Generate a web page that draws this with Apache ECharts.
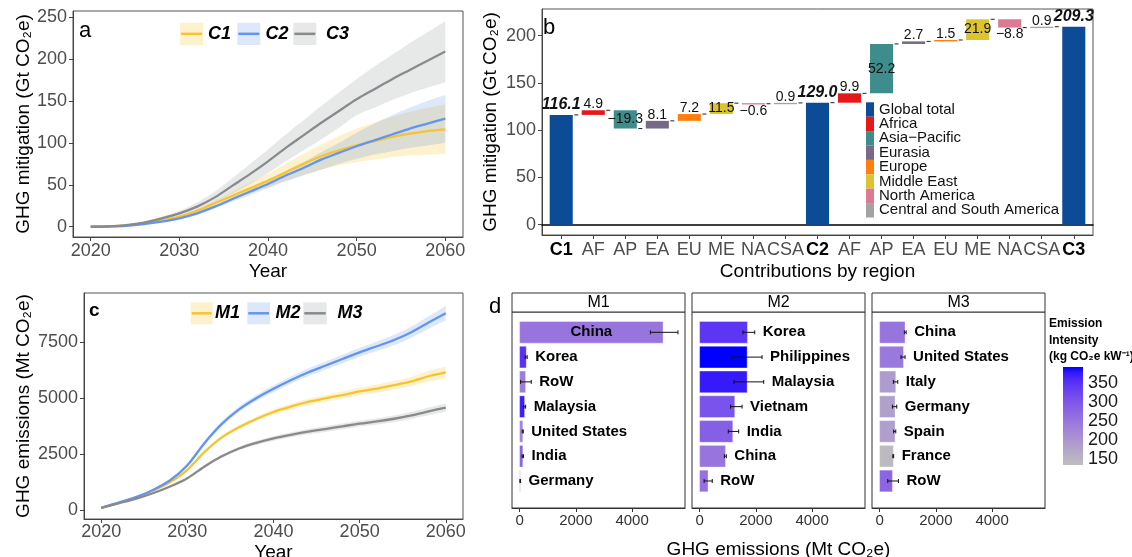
<!DOCTYPE html>
<html><head><meta charset="utf-8">
<script src="https://cdn.jsdelivr.net/npm/echarts@6/dist/echarts.min.js"></script>
<style>html,body{margin:0;padding:0;background:#fff}#c{width:1132px;height:557px}</style>
</head><body><div id="c"></div>
<script>
// ================= DATA =================
// Panel a: cumulative GHG mitigation (Gt CO2e)
const yearsA = [2020,2022,2024,2026,2028,2030,2032,2034,2036,2038,2040,2042,2044,2046,2048,2050,2052,2054,2056,2058,2060];
const c1Mean = [0,0.4,1.5,4,7.5,12,19,28,37,46,55,65,75,84,91,97,102,107,111,114,116];
const c1High = [0,0.5,1.7,4.4,8.3,13,21,31,42,53,63,75,87,98,108,117,124,131,137,142,146];
const c1Low  = [0,0.3,1.3,3.6,6.8,11,17,25,33,40,47,55,62,68,73,77,80,83,85,86,87];
const c2Mean = [0,0.3,1,3,6,10,16,24,33,42,51,61,70,80,88,96,103,110,117,123,129];
const c2High = [0,0.4,1.2,3.4,6.6,11,18,26,36,45,55,66,77,89,100,112,123,133,142,150,157];
const c2Low  = [0,0.2,0.8,2.6,5.4,9,14,22,30,38,46,54,61,68,75,81,86,90,94,97,100];
const c3Mean = [0,0.5,2,5,10,16,24,35,49,63,78,94,109,124,138,152,164,176,187,198,209];
const c3High = [0,0.6,2.5,6,12,19,29,42,58,75,92,110,127,144,160,176,191,205,219,232,245];
const c3Low  = [0,0.4,1.5,4,8,13,19,28,39,51,64,78,91,104,118,133,142,151,159,166,172];

// Panel c: GHG emissions (Mt CO2e)
const yearsC = [2020,2022,2024,2026,2028,2030,2032,2034,2036,2038,2040,2042,2044,2046,2048,2050,2052,2054,2056,2058,2060];
const m1Mean = [100,320,560,860,1250,1800,2600,3250,3700,4070,4380,4620,4830,4990,5140,5300,5430,5580,5750,5980,6150];
const m1High = [120,345,590,900,1300,1860,2670,3330,3790,4170,4500,4750,4970,5140,5300,5470,5610,5770,5960,6220,6420];
const m1Low  = [80,295,530,820,1200,1740,2530,3170,3610,3970,4260,4490,4690,4840,4980,5130,5250,5390,5540,5740,5880];
const m2Mean = [100,330,580,900,1330,2000,3000,3850,4500,5000,5420,5800,6150,6450,6750,7050,7320,7600,7950,8380,8800];
const m2High = [120,355,610,940,1380,2080,3090,3960,4620,5140,5570,5960,6320,6630,6940,7250,7530,7830,8200,8660,9120];
const m2Low  = [80,305,550,860,1280,1920,2910,3740,4380,4860,5270,5640,5980,6270,6560,6850,7110,7370,7700,8100,8480];
const m3Mean = [100,300,500,750,1050,1420,1950,2400,2750,3000,3200,3360,3500,3620,3740,3860,3960,4080,4230,4410,4580];
const m3High = [115,320,525,780,1090,1470,2010,2470,2830,3090,3300,3470,3620,3750,3870,3990,4100,4230,4390,4580,4760];
const m3Low  = [85,280,475,720,1010,1370,1890,2330,2670,2910,3100,3250,3380,3490,3610,3730,3820,3930,4070,4240,4400];

// Panel b: waterfall
const wfLabels = ['C1','AF','AP','EA','EU','ME','NA','CSA','C2','AF','AP','EA','EU','ME','NA','CSA','C3'];
const regionNames = ['Global total','Africa','Asia\u2212Pacific','Eurasia','Europe','Middle East','North America','Central and South America'];
const wfTotals = [116.1, 129.0, 209.3];
const deltasC1toC2 = [4.9, -19.3, 8.1, 7.2, 11.5, -0.6, 0.9];
const deltasC2toC3 = [9.9, 52.2, 2.7, 1.5, 21.9, -8.8, 0.9];

// Panel d: emissions by country (Mt CO2e), error range, emission intensity
const m1Names = ['China','Korea','RoW','Malaysia','United States','India','Germany'];
const m1Val   = [5100, 237, 212, 178, 115, 115, 25];
const m1Lo    = [4650, 200, 35, 150, 95, 90, 10];
const m1Hi    = [5630, 270, 415, 215, 130, 140, 35];
const m1Int   = [250, 350, 240, 370, 228, 280, 170];
const m2Names = ['Korea','Philippines','Malaysia','Vietnam','India','China','RoW'];
const m2Val   = [1700, 1690, 1690, 1250, 1180, 920, 300];
const m2Lo    = [1540, 1160, 1220, 1100, 1020, 880, 160];
const m2Hi    = [1960, 2220, 2280, 1510, 1390, 950, 450];
const m2Int   = [345, 391, 375, 305, 285, 250, 258];
const m3Names = ['China','United States','Italy','Germany','Spain','France','RoW'];
const m3Val   = [905, 850, 575, 550, 550, 490, 455];
const m3Lo    = [880, 760, 490, 455, 500, 470, 290];
const m3Hi    = [945, 905, 645, 610, 575, 500, 670];
const m3Int   = [250, 245, 188, 182, 185, 140, 275];
const intensityRange = [133, 391];
const intensityTicks = [150, 200, 250, 300, 350];

// ================= STYLE =================
const FONT = '"Liberation Sans", Arial, Helvetica, sans-serif';
const GRAYTXT = '#4d4d4d';
const regionColors = ['#0c4b96','#e3191c','#3e8c8c','#786a86','#ff7f0e','#dcc431','#dc7a93','#a3a3a3'];
const lineA = {C1:'#f6c431', C2:'#6495ed', C3:'#888a8e'};
const bandA = {C1:'rgba(246,196,49,0.24)', C2:'rgba(100,149,237,0.22)', C3:'rgba(136,138,142,0.2)'};
const plain = v => String(v);

// Lab interpolation (grey -> blue) like ggplot's gradient
function s2l(c){c/=255;return c<=0.04045?c/12.92:Math.pow((c+0.055)/1.055,2.4);}
function l2s(c){const v=c<=0.0031308?12.92*c:1.055*Math.pow(c,1/2.4)-0.055;return Math.round(Math.max(0,Math.min(1,v))*255);}
function rgb2lab(rgb){const r=s2l(rgb[0]),g=s2l(rgb[1]),b=s2l(rgb[2]);
  const X=(0.4124*r+0.3576*g+0.1805*b)/0.95047,Y=0.2126*r+0.7152*g+0.0722*b,Z=(0.0193*r+0.1192*g+0.9505*b)/1.08883;
  const f=t=>t>0.008856?Math.cbrt(t):7.787*t+16/116;
  return [116*f(Y)-16,500*(f(X)-f(Y)),200*(f(Y)-f(Z))];}
function lab2hex(L,a,b){const fy=(L+16)/116,fx=fy+a/500,fz=fy-b/200;
  const inv=t=>t*t*t>0.008856?t*t*t:(t-16/116)/7.787;
  const X=inv(fx)*0.95047,Y=inv(fy),Z=inv(fz)*1.08883;
  const r=3.2406*X-1.5372*Y-0.4986*Z,g=-0.9689*X+1.8758*Y+0.0415*Z,bb=0.0557*X-0.2040*Y+1.0570*Z;
  return '#'+[l2s(r),l2s(g),l2s(bb)].map(v=>v.toString(16).padStart(2,'0')).join('');}
const labLo = rgb2lab([190,190,190]), labHi = rgb2lab([0,0,255]);
const gradColors = [];
for (let k=0;k<=16;k++){const t=k/16;gradColors.push(lab2hex(labLo[0]+(labHi[0]-labLo[0])*t,labLo[1]+(labHi[1]-labLo[1])*t,labLo[2]+(labHi[2]-labLo[2])*t));}

// ================= HELPERS =================
function axisBase(gridIndex){
  return {gridIndex, type:'value', splitLine:{show:false},
    axisLine:{show:true,onZero:false,lineStyle:{color:'#444',width:1}},
    axisTick:{show:true,length:4,lineStyle:{color:'#444'}},
    axisLabel:{color:GRAYTXT,fontSize:18,fontFamily:FONT,formatter:plain},
    nameTextStyle:{color:'#000',fontSize:19,fontFamily:FONT}};
}
function pairs(xs, ys){return xs.map((x,i)=>[x, ys[i]]);}
// Catmull-Rom sampling of pixel points (for smooth band edges)
function catmull(P, n){
  n = n || 8; const out = [];
  for (let i=0;i<P.length-1;i++){
    const p0=P[Math.max(i-1,0)], p1=P[i], p2=P[i+1], p3=P[Math.min(i+2,P.length-1)];
    for (let s=0;s<n;s++){
      const t=s/n, t2=t*t, t3=t2*t;
      out.push([0,1].map(k=>0.5*(2*p1[k]+(-p0[k]+p2[k])*t+(2*p0[k]-5*p1[k]+4*p2[k]-p3[k])*t2+(-p0[k]+3*p1[k]-3*p2[k]+p3[k])*t3)));
    }
  }
  out.push(P[P.length-1]);
  return out;
}

const series = [];
function addBand(name, xs, lo, hi, color, xi, yi){
  series.push({name:name+' band', type:'custom', xAxisIndex:xi, yAxisIndex:yi, silent:true, z:1,
    data: xs.map((x,i)=>[x, lo[i], hi[i]]), encode:{x:0, y:[1,2]},
    renderItem: function(params, api){
      if (params.dataIndex !== 0) return null;
      const up = xs.map((x,i)=>api.coord([x, hi[i]]));
      const dn = xs.map((x,i)=>api.coord([x, lo[i]]));
      const pts = catmull(up).concat(catmull(dn).reverse());
      return {type:'polygon', shape:{points:pts}, style:{fill:color}};
    }});
}
function addLine(name, xs, ys, color, xi, yi){
  series.push({name, type:'line', xAxisIndex:xi, yAxisIndex:yi, data:pairs(xs, ys), smooth:0.3, symbol:'none',
    lineStyle:{color, width:2.3}, itemStyle:{color}, z:3});
}

// Panel a
addBand('C3', yearsA, c3Low, c3High, bandA.C3, 0, 0);
addBand('C1', yearsA, c1Low, c1High, bandA.C1, 0, 0);
addBand('C2', yearsA, c2Low, c2High, bandA.C2, 0, 0);
addLine('C1', yearsA, c1Mean, lineA.C1, 0, 0);
addLine('C2', yearsA, c2Mean, lineA.C2, 0, 0);
addLine('C3', yearsA, c3Mean, lineA.C3, 0, 0);
// Panel c
addBand('M3', yearsC, m3Low, m3High, bandA.C3, 2, 2);
addBand('M1', yearsC, m1Low, m1High, bandA.C1, 2, 2);
addBand('M2', yearsC, m2Low, m2High, bandA.C2, 2, 2);
addLine('M1', yearsC, m1Mean, lineA.C1, 2, 2);
addLine('M2', yearsC, m2Mean, lineA.C2, 2, 2);
addLine('M3', yearsC, m3Mean, lineA.C3, 2, 2);

// Panel b waterfall data
const wfData = regionNames.map(()=>[]);
wfTotals.forEach((t,k)=>wfData[0].push([k*8, 0, t, t]));
[deltasC1toC2, deltasC2toC3].forEach((ds,k)=>{
  let start = wfTotals[k];
  ds.forEach((d,j)=>{const end = start + d; wfData[j+1].push([k*8+1+j, start, end, d]); start = end;});
});
const lastIdx = wfLabels.length - 1;
function fmt(d){return (d<0?'\u2212':'') + Math.abs(d).toFixed(1);}
function makeWfRender(isTotal){
  return function(params, api){
    const idx=api.value(0), s=api.value(1), e=api.value(2), d=api.value(3);
    const top=Math.max(s,e), bot=Math.min(s,e);
    const pt=api.coord([idx-0.36, top]), pb=api.coord([idx+0.36, bot]);
    const color=api.visual('color');
    const kids=[{type:'rect', shape:{x:pt[0], y:pt[1], width:pb[0]-pt[0], height:Math.max(pb[1]-pt[1],1.3)}, style:{fill:color}}];
    if (idx < lastIdx){
      const c=api.coord([idx+0.36, e]);
      kids.push({type:'line', shape:{x1:c[0]+1.5,y1:c[1],x2:c[0]+5.5,y2:c[1]}, style:{stroke:'#222',lineWidth:1}});
    }
    const cx=(pt[0]+pb[0])/2;
    let y, va, font;
    if (isTotal){ y=pt[1]-2; va='bottom'; font='italic bold 16px '+FONT; }
    else if (Math.abs(d)>=10){ y=(pt[1]+pb[1])/2; va='middle'; font='14px '+FONT; }
    else if (d>0){ y=pt[1]+1; va='bottom'; font='14px '+FONT; }
    else { y=pb[1]; va='top'; font='14px '+FONT; }
    kids.push({type:'text', x:cx, y, style:{text:fmt(d), font, fill:'#111', align:'center', textAlign:'center', verticalAlign:va, textVerticalAlign:va}});
    return {type:'group', children:kids};
  };
}
regionNames.forEach((nm,r)=>{
  series.push({name:nm, type:'custom', xAxisIndex:1, yAxisIndex:1, data:wfData[r], encode:{x:0, y:[1,2]},
    renderItem:makeWfRender(r===0), itemStyle:{color:regionColors[r]}, z:2});
});

// Panel d
function makeDRender(names){
  return function(params, api){
    const v=api.value(0), i=api.value(1), lo=api.value(2), hi=api.value(3);
    const h=Math.abs(api.size([0,0.875])[1]);
    const p0=api.coord([0,i]), p1=api.coord([v,i]), pl=api.coord([lo,i]), ph=api.coord([hi,i]);
    const color=api.visual('color');
    const cap=2;
    const kids=[
      {type:'rect', shape:{x:p0[0], y:p0[1]-h/2, width:Math.max(p1[0]-p0[0],0.8), height:h}, style:{fill:color, stroke:'rgba(255,255,255,0.6)', lineWidth:0.6}},
      {type:'line', shape:{x1:pl[0],y1:pl[1],x2:ph[0],y2:ph[1]}, style:{stroke:'#111',lineWidth:1}},
      {type:'line', shape:{x1:pl[0],y1:pl[1]-cap,x2:pl[0],y2:pl[1]+cap}, style:{stroke:'#111',lineWidth:1}},
      {type:'line', shape:{x1:ph[0],y1:ph[1]-cap,x2:ph[0],y2:ph[1]+cap}, style:{stroke:'#111',lineWidth:1}}
    ];
    const inside = v > 3000;
    const tx = inside ? (p0[0]+p1[0])/2 : ph[0]+8;
    kids.push({type:'text', x:tx, y:p0[1], style:{text:names[params.dataIndex], font:'bold 15px '+FONT, fill:'#000',
      align:inside?'center':'left', textAlign:inside?'center':'left', verticalAlign:'middle', textVerticalAlign:'middle'}});
    return {type:'group', children:kids};
  };
}
const dPanels = [
  {names:m1Names, val:m1Val, lo:m1Lo, hi:m1Hi, int:m1Int},
  {names:m2Names, val:m2Val, lo:m2Lo, hi:m2Hi, int:m2Int},
  {names:m3Names, val:m3Val, lo:m3Lo, hi:m3Hi, int:m3Int}
];
const dSeriesIdx = [];
dPanels.forEach((p,k)=>{
  dSeriesIdx.push(series.length);
  series.push({name:'M'+(k+1)+' countries', type:'custom', xAxisIndex:3+k, yAxisIndex:3+k,
    data:p.names.map((n,i)=>[p.val[i], i, p.lo[i], p.hi[i], p.int[i]]),
    encode:{x:[0,2,3], y:1}, renderItem:makeDRender(p.names), z:2});
});

// Colorbar
series.push({name:'colorbar', type:'custom', xAxisIndex:6, yAxisIndex:6, silent:true,
  data:[[0, intensityRange[0], intensityRange[1]]], encode:{y:[1,2]},
  renderItem:function(params, api){
    const a=api.coord([0, api.value(2)]), b=api.coord([1, api.value(1)]);
    const stops = gradColors.slice().reverse().map((c,k,arr)=>({offset:k/(arr.length-1), color:c}));
    return {type:'rect', shape:{x:a[0], y:a[1], width:b[0]-a[0], height:b[1]-a[1]},
      style:{fill:new echarts.graphic.LinearGradient(0,0,0,1,stops)}};
  }, z:1});

// ================= AXES =================
const xAxis = [];
const yAxis = [];
const yearTicks = [2020,2030,2040,2050,2060];
// 0: a
xAxis.push(Object.assign(axisBase(0), {min:2018, max:2062, name:'Year', nameLocation:'middle', nameGap:25,
  axisLabel:{color:GRAYTXT,fontSize:18,fontFamily:FONT,margin:5,formatter:plain,customValues:yearTicks}, axisTick:{length:4,lineStyle:{color:'#444'},customValues:yearTicks}}));
// 1: b
xAxis.push(Object.assign(axisBase(1), {min:-0.6, max:16.6, name:'Contributions by region', nameLocation:'middle', nameGap:27,
  axisLabel:{color:GRAYTXT,fontSize:18,fontFamily:FONT,margin:6,customValues:wfLabels.map((l,i)=>i),
    formatter:v=>{const l=wfLabels[Math.round(v)]; return /^C\d$/.test(l)?'{b|'+l+'}':l;},
    rich:{b:{fontWeight:'bold',color:'#000',fontSize:18,fontFamily:FONT}}},
  axisTick:{length:4,lineStyle:{color:'#444'},customValues:wfLabels.map((l,i)=>i)}}));
// 2: c
xAxis.push(Object.assign(axisBase(2), {min:2018, max:2062, name:'Year', nameLocation:'middle', nameGap:24,
  axisLabel:{color:GRAYTXT,fontSize:18,fontFamily:FONT,margin:4,formatter:plain,customValues:yearTicks}, axisTick:{length:4,lineStyle:{color:'#444'},customValues:yearTicks}}));
// 3-5: d
const dTicks = [0,2000,4000];
for (let k=0;k<3;k++){
  const ax = Object.assign(axisBase(3+k), {min:-270, max:5880,
    axisLine:{show:true,onZero:false,lineStyle:{color:'#333',width:1}},
    axisLabel:{color:'#333',fontSize:15,fontFamily:FONT,margin:5,formatter:plain,customValues:dTicks},
    axisTick:{length:4,lineStyle:{color:'#333'},customValues:dTicks}});
  if (k===1){ ax.name='GHG emissions (Mt CO\u2082e)'; ax.nameLocation='middle'; ax.nameGap=32; }
  xAxis.push(ax);
}
// 6: colorbar x
xAxis.push({gridIndex:6, type:'value', min:0, max:1, show:false});
// 7: zero reference line in panel b (axis line sitting on y = 0)
xAxis.push({gridIndex:1, type:'value', min:-0.6, max:16.6, position:'bottom',
  axisLine:{show:true, onZero:true, onZeroAxisIndex:1, lineStyle:{color:'#000', width:1.5}},
  axisTick:{show:false}, axisLabel:{show:false}, splitLine:{show:false}});

// y axes
yAxis.push(Object.assign(axisBase(0), {min:-12.25, max:257.25, name:'GHG mitigation (Gt CO\u2082e)', nameLocation:'middle', nameGap:40,
  axisLabel:{color:GRAYTXT,fontSize:18,fontFamily:FONT,margin:6,formatter:plain,customValues:[0,50,100,150,200,250]},
  axisTick:{length:4,lineStyle:{color:'#444'},customValues:[0,50,100,150,200,250]}}));
yAxis.push(Object.assign(axisBase(1), {min:-10.86, max:228.06, name:'GHG mitigation (Gt CO\u2082e)', nameLocation:'middle', nameGap:42,
  axisLabel:{color:GRAYTXT,fontSize:18,fontFamily:FONT,margin:6,formatter:plain,customValues:[0,50,100,150,200]},
  axisTick:{length:4,lineStyle:{color:'#444'},customValues:[0,50,100,150,200]}}));
yAxis.push(Object.assign(axisBase(2), {min:-400, max:9700, name:'GHG emissions (Mt CO\u2082e)', nameLocation:'middle', nameGap:51,
  axisLabel:{color:GRAYTXT,fontSize:18,fontFamily:FONT,margin:6,formatter:plain,customValues:[0,2500,5000,7500]},
  axisTick:{length:4,lineStyle:{color:'#444'},customValues:[0,2500,5000,7500]}}));
for (let k=0;k<3;k++){
  yAxis.push({gridIndex:3+k, type:'value', inverse:true, min:-0.82, max:7.09, show:false});
}
yAxis.push({gridIndex:6, type:'value', min:intensityRange[0], max:intensityRange[1], position:'left',
  splitLine:{show:false}, axisLine:{show:false}, axisLabel:{show:false},
  axisTick:{show:true, inside:true, length:4, lineStyle:{color:'#fff',width:1}, customValues:intensityTicks}});
yAxis.push({gridIndex:6, type:'value', min:intensityRange[0], max:intensityRange[1], position:'right',
  splitLine:{show:false}, axisLine:{show:false},
  axisLabel:{color:'#1a1a1a', fontSize:18, fontFamily:FONT, margin:5, formatter:plain, customValues:intensityTicks},
  axisTick:{show:true, inside:true, length:4, lineStyle:{color:'#fff',width:1}, customValues:intensityTicks}});

// ================= GRIDS =================
const gb = {show:true, borderColor:'#555', borderWidth:1, backgroundColor:'transparent', outerBoundsMode:'none', containLabel:false};
const grid = [
  Object.assign({left:73, top:11, width:390, height:226}, gb),
  Object.assign({left:542, top:9, width:551, height:226}, gb),
  Object.assign({left:84, top:293, width:379, height:226}, gb),
  Object.assign({left:512, top:312, width:173, height:196}, gb, {borderColor:'#333'}),
  Object.assign({left:692, top:312, width:173, height:196}, gb, {borderColor:'#333'}),
  Object.assign({left:872, top:312, width:173, height:196}, gb, {borderColor:'#333'}),
  {left:1063, top:367, width:20, height:98, show:false, outerBoundsMode:'none', containLabel:false}
];

// ================= GRAPHIC (panel letters, legends, strips) =================
function txt(x, y, text, font, align, va, fill){
  return {type:'text', x, y, silent:true, style:{text, font:font+' '+FONT, fill:fill||'#000', align:align||'left', textAlign:align||'left', verticalAlign:va||'middle', textVerticalAlign:va||'middle'}};
}
const graphic = [];
graphic.push(txt(79, 31, 'a', '22px'));
graphic.push(txt(543, 28, 'b', '22px'));
graphic.push(txt(89, 311, 'c', 'bold 19px'));
graphic.push(txt(489, 307, 'd', '22px'));
function keyItem(x, y, w, h, fill, stroke, tx, label){
  graphic.push({type:'rect', silent:true, shape:{x, y, width:w, height:h}, style:{fill}});
  graphic.push({type:'line', silent:true, shape:{x1:x+1, y1:y+h/2, x2:x+w-1, y2:y+h/2}, style:{stroke, lineWidth:2.5}});
  graphic.push(txt(tx, y+h/2, label, 'italic bold 18px'));
}
keyItem(180, 22.7, 23, 22.3, bandA.C1, lineA.C1, 208, 'C1');
keyItem(237.3, 22.7, 23, 22.3, bandA.C2, lineA.C2, 265.5, 'C2');
keyItem(293.3, 22.7, 23, 22.3, bandA.C3, lineA.C3, 326, 'C3');
keyItem(190.7, 302.3, 22, 22, bandA.C1, lineA.C1, 215, 'M1');
keyItem(247.3, 302.3, 22.7, 22, bandA.C2, lineA.C2, 275.5, 'M2');
keyItem(303.3, 302.3, 23.4, 22, bandA.C3, lineA.C3, 337.5, 'M3');
[512, 692, 872].forEach((x,k)=>{
  graphic.push({type:'rect', silent:true, shape:{x, y:293, width:173, height:19}, style:{fill:'#fff', stroke:'#333', lineWidth:1}});
  graphic.push(txt(x+86.5, 303, 'M'+(k+1), '16px', 'center'));
});
graphic.push(txt(1049, 324, 'Emission', 'bold 12px'));
graphic.push(txt(1049, 340.5, 'Intensity', 'bold 12px'));
graphic.push(txt(1049, 356.5, '(kg CO\u2082e kW\u207B\u00B9)', 'bold 12px'));

const option = {
  animation:false,
  backgroundColor:'#fff',
  textStyle:{fontFamily:FONT},
  grid, xAxis, yAxis, series, graphic,
  legend:{data:regionNames, orient:'vertical', left:866, top:102, itemWidth:8, itemHeight:14.4, itemGap:-0.6, icon:'rect',
    padding:0, selectedMode:false, textStyle:{fontSize:15, lineHeight:14.4, color:'#111', fontFamily:FONT}},
  visualMap:{type:'continuous', show:false, min:intensityRange[0], max:intensityRange[1], dimension:4,
    seriesIndex:dSeriesIdx, inRange:{color:gradColors}}
};
const chart = echarts.init(document.getElementById('c'), null, {renderer:'canvas'});
chart.setOption(option);
</script>
</body></html>
